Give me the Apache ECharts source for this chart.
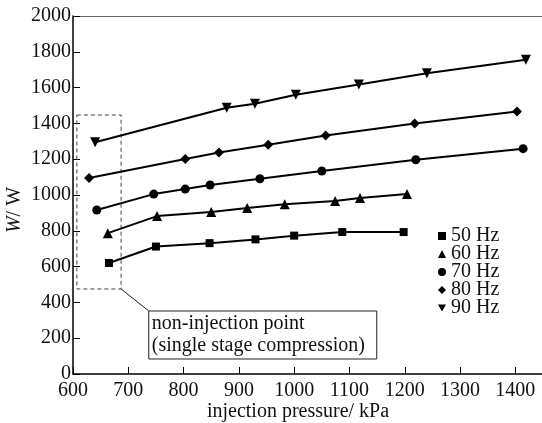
<!DOCTYPE html>
<html>
<head>
<meta charset="utf-8">
<script src="https://cdn.jsdelivr.net/npm/echarts@6/dist/echarts.min.js"></script>
<style>
html,body{margin:0;padding:0;background:#fff;}
#chart{width:542px;height:423px;}
</style>
</head>
<body>
<div id="chart"></div>
<script>
// ---- data ----
const seriesNames = ['50 Hz', '60 Hz', '70 Hz', '80 Hz', '90 Hz'];
const x50 = [665, 750, 847, 930, 1000, 1087, 1198];
const y50 = [620, 712, 731, 752, 773, 793, 793];
const x60 = [663, 752, 850, 915, 983, 1074, 1119, 1204];
const y60 = [787, 882, 905, 927, 948, 966, 983, 1005];
const x70 = [643, 746, 803, 848, 938, 1050, 1220, 1414];
const y70 = [916, 1005, 1033, 1056, 1091, 1134, 1197, 1259];
const x80 = [629, 803, 864, 953, 1057, 1218, 1403];
const y80 = [1095, 1201, 1238, 1281, 1332, 1399, 1466];
const x90 = [640, 878, 929, 1003, 1117, 1240, 1419];
const y90 = [1295, 1487, 1510, 1560, 1617, 1680, 1755];
const xTicks = [600, 700, 800, 900, 1000, 1100, 1200, 1300, 1400];
const yTicks = [0, 200, 400, 600, 800, 1000, 1200, 1400, 1600, 1800, 2000];
// annotation (data coordinates)
const dashedBoxX = [607, 687];
const dashedBoxY = [475, 1447];
const leaderFrom = [687, 475];
const leaderTo = [737, 352];
const annotationLines = ['non-injection point', '(single stage compression)'];

const FONT = '"Liberation Serif", "DejaVu Serif", serif';
const downTri = 'path://M0,0L10,0L5,9Z';

function pairs(xs, ys) { return xs.map((x, i) => [x, ys[i]]); }

const markerDefs = [
  { sym: 'rect', size: 8, rot: 0, x: x50, y: y50 },
  { sym: 'triangle', size: 10, rot: 0, x: x60, y: y60 },
  { sym: 'circle', size: 9, rot: 0, x: x70, y: y70 },
  { sym: 'diamond', size: 10, rot: 0, x: x80, y: y80 },
  { sym: 'triangle', size: 10, rot: 180, x: x90, y: y90 }
];
const legendIcons = ['rect', 'triangle', 'circle', 'diamond', downTri];

const series = markerDefs.map((m, i) => ({
  name: seriesNames[i],
  type: 'line',
  data: pairs(m.x, m.y),
  symbol: m.sym,
  symbolSize: m.size,
  symbolRotate: m.rot,
  showSymbol: true,
  lineStyle: { color: '#000', width: 2 },
  itemStyle: { color: '#000', borderWidth: 0 },
  emphasis: { disabled: true },
  animation: false,
  z: 3
}));

series.push({
  name: 'box',
  type: 'line',
  data: [],
  animation: false,
  markArea: {
    silent: true,
    itemStyle: { color: 'rgba(0,0,0,0)', borderColor: '#444', borderWidth: 1, borderType: [4, 3] },
    data: [[{ coord: [dashedBoxX[0], dashedBoxY[1]] }, { coord: [dashedBoxX[1], dashedBoxY[0]] }]]
  }
});
series.push({
  name: 'leader',
  type: 'line',
  data: [leaderFrom, leaderTo],
  symbol: 'none',
  lineStyle: { color: '#222', width: 1 },
  animation: false,
  silent: true,
  z: 2
});

const chart = echarts.init(document.getElementById('chart'), null, { renderer: 'canvas' });
const option = {
  backgroundColor: '#fff',
  animation: false,
  textStyle: { fontFamily: FONT },
  grid: { left: 73, top: 16, width: 470, bottom: 49, containLabel: false, outerBoundsMode: 'none' },
  legend: {
    orient: 'vertical',
    left: 433,
    top: 221,
    itemWidth: 8,
    itemHeight: 8,
    itemGap: -2,
    selectedMode: false,
    textStyle: { fontFamily: FONT, fontSize: 20, color: '#111', lineHeight: 18 },
    data: seriesNames.map((n, i) => ({ name: n, icon: legendIcons[i], itemStyle: { color: '#000' } }))
  },
  xAxis: [{
    type: 'value',
    min: 600,
    max: 1450,
    interval: 100,
    name: 'injection pressure/ kPa',
    nameLocation: 'middle',
    nameGap: 28,
    nameMoveOverlap: false,
    nameTextStyle: { fontFamily: FONT, fontSize: 20, color: '#111', padding: [0, 20, 0, 0] },
    axisLine: { lineStyle: { color: '#000', width: 1.5 } },
    axisTick: { inside: true, length: 7, lineStyle: { color: '#000', width: 1 } },
    axisLabel: {
      fontFamily: FONT, fontSize: 20, color: '#111', margin: 7, showMaxLabel: false,
      formatter: v => (xTicks.indexOf(v) >= 0 ? String(v) : '')
    },
    splitLine: { show: false }
  }, {
    type: 'value',
    position: 'top',
    min: 600,
    max: 1450,
    axisLine: { lineStyle: { color: '#666', width: 1 } },
    axisTick: { show: false },
    axisLabel: { show: false },
    splitLine: { show: false }
  }],
  yAxis: {
    type: 'value',
    min: 0,
    max: 2000,
    interval: 200,
    name: '{i|W}/ W',
    nameLocation: 'middle',
    nameGap: 48,
    nameMoveOverlap: false,
    nameTextStyle: {
      fontFamily: FONT, fontSize: 20, color: '#111', padding: [0, 30, 0, 0],
      rich: { i: { fontFamily: FONT, fontSize: 20, fontStyle: 'italic', color: '#111' } }
    },
    axisLine: { show: true, lineStyle: { color: '#000', width: 1.5 } },
    axisTick: { show: true, inside: true, length: 7, lineStyle: { color: '#000', width: 1 } },
    axisLabel: {
      fontFamily: FONT, fontSize: 20, color: '#111', margin: 2,
      formatter: v => (yTicks.indexOf(v) >= 0 ? String(v) : '')
    },
    splitLine: { show: false }
  },
  series: series
};
chart.setOption(option);

const p = chart.convertToPixel({ xAxisIndex: 0, yAxisIndex: 0 }, leaderTo);
chart.setOption({
  graphic: [{
    type: 'group',
    x: p[0],
    y: p[1],
    children: [{
      type: 'rect',
      shape: { x: 0, y: 0, width: 228, height: 48 },
      style: { fill: '#fff', stroke: '#222', lineWidth: 1 }
    }, {
      type: 'text',
      x: 3,
      y: 2,
      style: {
        text: annotationLines.join('\n'),
        font: '20px ' + FONT,
        lineHeight: 22,
        fill: '#111'
      }
    }]
  }]
});
</script>
</body>
</html>
